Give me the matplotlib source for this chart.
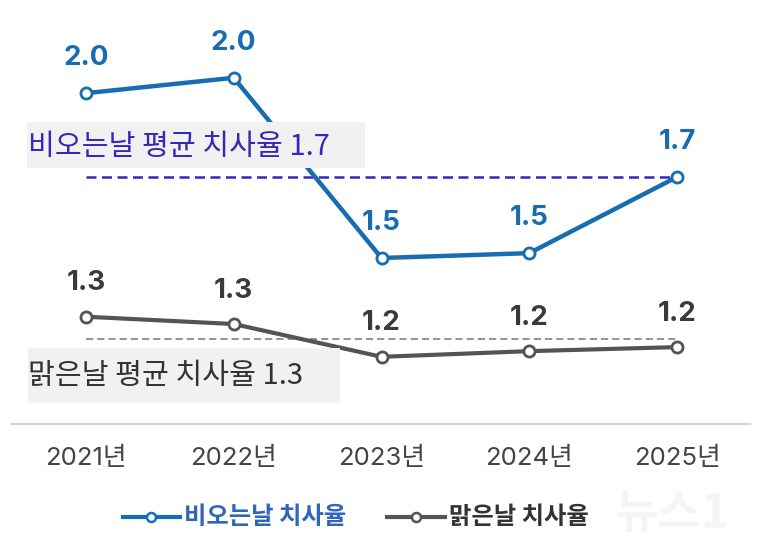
import matplotlib
matplotlib.use("Agg")
import matplotlib.pyplot as plt
from matplotlib.patches import Rectangle
from matplotlib.lines import Line2D

plt.rcParams['font.family'] = ['Noto Sans CJK KR', 'DejaVu Sans']

years = ["2021년", "2022년", "2023년", "2024년", "2025년"]
rainy = [1.907, 1.945, 1.50, 1.512, 1.70]
clear = [1.355, 1.337, 1.256, 1.270, 1.280]
rainy_labels = ["2.0", "2.0", "1.5", "1.5", "1.7"]
clear_labels = ["1.3", "1.3", "1.2", "1.2", "1.2"]
rainy_avg = 1.7
clear_avg = 1.3
rainy_avg_text = "비오는날 평균 치사율 1.7"
clear_avg_text = "맑은날 평균 치사율 1.3"
legend_names = ["비오는날 치사율", "맑은날 치사율"]

W, H = 761, 552
BLUE = "#176db0"
INDIGO = "#3428b8"
GRAY = "#545454"
NUMFONT = ['Inter', 'Noto Sans CJK KR', 'DejaVu Sans']

fig = plt.figure(figsize=(W / 100, H / 100), dpi=100)
ax = fig.add_axes([0, 0, 1, 1])
x = list(range(len(years)))
step = 147.75
ax.set_xlim(-86 / step, 4 + (W - 677) / step)
ppu = 405.0
ax.set_ylim(rainy_avg - (H - 177) / ppu, rainy_avg + 177 / ppu)
ax.axis("off")

def fx(px):
    return px / W

def fy(py):
    return 1 - py / H

# average dashed lines
ax.plot([x[0], x[-1]], [rainy_avg, rainy_avg], color=INDIGO, lw=1.8,
        dashes=(4, 2.2), zorder=2)
ax.plot([x[0], x[-1]], [clear_avg, clear_avg], color="#8a8a8a", lw=1.3,
        dashes=(4, 2.2), zorder=2)

# series lines
ax.plot(x, rainy, color=BLUE, lw=3.2, marker="o", ms=8, mfc="white",
        mec=BLUE, mew=2, zorder=3)
ax.plot(x, clear, color=GRAY, lw=3.0, marker="o", ms=8, mfc="white",
        mec=GRAY, mew=2, zorder=3)

# value labels
for xi, v, t in zip(x, rainy, rainy_labels):
    ax.annotate(t, (xi, v), xytext=(0, 25), textcoords="offset points",
                ha="center", va="center", fontsize=20, fontweight="bold",
                color=BLUE, zorder=6, family=NUMFONT)
for xi, v, t in zip(x, clear, clear_labels):
    ax.annotate(t, (xi, v), xytext=(0, 24), textcoords="offset points",
                ha="center", va="center", fontsize=20, fontweight="bold",
                color="#3a3a3a", zorder=6, family=NUMFONT)

# average label boxes
fig.patches.append(Rectangle((fx(27), fy(168)), fx(365) - fx(27), fy(122) - fy(168),
                             transform=fig.transFigure, facecolor="#f1f1f2",
                             edgecolor="none", zorder=4))
fig.text(fx(28), fy(147), rainy_avg_text, ha="left", va="center", fontsize=21,
         fontweight="medium", color=INDIGO, zorder=5)
fig.patches.append(Rectangle((fx(28), fy(403)), fx(340) - fx(28), fy(348) - fy(403),
                             transform=fig.transFigure, facecolor="#f1f1f2",
                             edgecolor="none", zorder=4))
fig.text(fx(28), fy(376), clear_avg_text, ha="left", va="center", fontsize=21,
         color="#333333", zorder=5)

# baseline
fig.add_artist(Line2D([fx(12), fx(750)], [fy(424), fy(424)], color="#d6d6d6",
                      lw=1.6, transform=fig.transFigure))

# x tick labels
for xi, yr in zip(x, years):
    ax.text(xi, fy(458), yr, transform=ax.get_xaxis_transform(), ha="center",
            va="center", fontsize=18.5, color="#444444", family=NUMFONT)

# legend
ly = fy(517)
fig.add_artist(Line2D([fx(123), fx(180)], [ly, ly], color=BLUE, lw=3,
                      transform=fig.transFigure))
fig.add_artist(Line2D([fx(151)], [ly], marker="o", ms=6.5, mfc="white", mec=BLUE,
                      mew=1.8, transform=fig.transFigure))
fig.text(fx(184), ly, legend_names[0], ha="left", va="center", fontsize=17.5,
         fontweight="bold", color="#2f66b8")
fig.add_artist(Line2D([fx(387), fx(445)], [ly, ly], color=GRAY, lw=3,
                      transform=fig.transFigure))
fig.add_artist(Line2D([fx(416)], [ly], marker="o", ms=6.5, mfc="white", mec=GRAY,
                      mew=1.8, transform=fig.transFigure))
fig.text(fx(449), ly, legend_names[1], ha="left", va="center", fontsize=17.5,
         fontweight="bold", color="#333333")

# watermark
fig.text(fx(672), fy(514), "뉴스1", ha="center", va="center", fontsize=34,
         fontweight="bold", style="italic", color="#f4f4f4", alpha=0.9,
         zorder=0)

fig.savefig("out.png", dpi=100, facecolor="white")
